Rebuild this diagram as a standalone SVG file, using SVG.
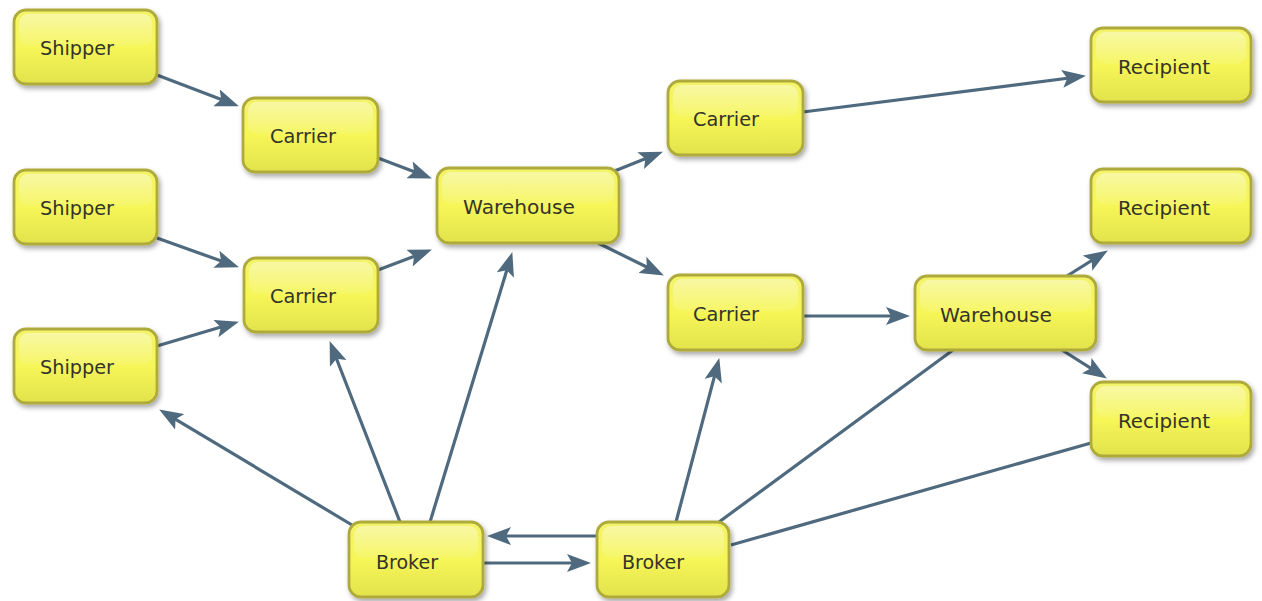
<svg xmlns="http://www.w3.org/2000/svg" width="1262" height="601" viewBox="0 0 1262 601">
  <defs>
    <linearGradient id="bodyFill" x1="0" y1="0" x2="0" y2="1">
      <stop offset="0" stop-color="#f3f36a"/>
      <stop offset="0.5" stop-color="#f6f658"/>
      <stop offset="1" stop-color="#e2e24c"/>
    </linearGradient>
    <linearGradient id="gloss" x1="0" y1="0" x2="0" y2="1">
      <stop offset="0" stop-color="#ffffff" stop-opacity="0.4"/>
      <stop offset="1" stop-color="#ffffff" stop-opacity="0.08"/>
    </linearGradient>
    <filter id="shadow" x="-10%" y="-10%" width="130%" height="140%">
      <feDropShadow dx="2" dy="3" stdDeviation="2.5" flood-color="#000000" flood-opacity="0.35"/>
    </filter>
    <marker id="arrow" markerUnits="userSpaceOnUse" markerWidth="24" markerHeight="18" refX="15" refY="9" orient="auto">
      <path d="M0,0 L24,9 L0,18 L5,9 Z" fill="#4f6a7e"/>
    </marker>
  </defs>
  <style>
    .box { fill: url(#bodyFill); stroke: #aeaa3a; stroke-width: 2.8; filter: url(#shadow); }
    .shine { fill: url(#gloss); }
    .label { font-family: "DejaVu Sans", "Liberation Sans", sans-serif; font-size: 20px; fill: #34342c; }
    .edge { fill: none; stroke: #4f6a7e; stroke-width: 3.2; }
    .edge.arr { marker-end: url(#arrow); }
  </style>

  <rect width="1262" height="601" fill="#ffffff"/>

  <!-- connectors -->
  <g id="connectors">
    <line class="edge arr" x1="157" y1="75" x2="230.5" y2="103.1"/>
    <line class="edge arr" x1="378" y1="158" x2="423.5" y2="175.2"/>
    <line class="edge arr" x1="157" y1="238" x2="230.5" y2="264.3"/>
    <line class="edge arr" x1="378" y1="270" x2="423.5" y2="252.8"/>
    <line class="edge arr" x1="157" y1="346" x2="230.3" y2="324.3"/>
    <line class="edge arr" x1="612" y1="172" x2="654.6" y2="155"/>
    <line class="edge arr" x1="803" y1="112" x2="1077.1" y2="77"/>
    <line class="edge arr" x1="598" y1="243" x2="655.8" y2="271.5"/>
    <line class="edge arr" x1="803" y1="316" x2="901" y2="316"/>
    <line class="edge arr" x1="1067" y1="276" x2="1100.2" y2="255.2"/>
    <line class="edge arr" x1="1062" y1="350" x2="1099.3" y2="373.7"/>
    <line class="edge arr" x1="352" y1="525" x2="166.9" y2="414.1"/>
    <line class="edge arr" x1="400" y1="522" x2="332.9" y2="349.5"/>
    <line class="edge arr" x1="430" y1="522" x2="509.7" y2="260.7"/>
    <line class="edge arr" x1="597" y1="536" x2="496" y2="536"/>
    <line class="edge arr" x1="483" y1="563" x2="582" y2="563"/>
    <line class="edge arr" x1="676" y1="522" x2="717" y2="366.7"/>
    <line class="edge" x1="719" y1="522" x2="953" y2="350"/>
    <line class="edge" x1="731" y1="545" x2="1091" y2="443"/>
  </g>

  <!-- nodes -->
  <g id="shipper-1" transform="translate(14,10)">
    <rect class="box" width="143" height="74" rx="12"/>
    <rect class="shine" x="5" y="4" width="133" height="32" rx="9"/>
    <text class="label" x="26" y="45" textLength="74" lengthAdjust="spacingAndGlyphs">Shipper</text>
  </g>
  <g id="shipper-2" transform="translate(14,170)">
    <rect class="box" width="143" height="74" rx="12"/>
    <rect class="shine" x="5" y="4" width="133" height="32" rx="9"/>
    <text class="label" x="26" y="45" textLength="74" lengthAdjust="spacingAndGlyphs">Shipper</text>
  </g>
  <g id="shipper-3" transform="translate(14,329)">
    <rect class="box" width="143" height="74" rx="12"/>
    <rect class="shine" x="5" y="4" width="133" height="32" rx="9"/>
    <text class="label" x="26" y="45" textLength="74" lengthAdjust="spacingAndGlyphs">Shipper</text>
  </g>
  <g id="carrier-1" transform="translate(243,98)">
    <rect class="box" width="135" height="74" rx="12"/>
    <rect class="shine" x="5" y="4" width="125" height="32" rx="9"/>
    <text class="label" x="27" y="45" textLength="66" lengthAdjust="spacingAndGlyphs">Carrier</text>
  </g>
  <g id="carrier-2" transform="translate(244,258)">
    <rect class="box" width="134" height="74" rx="12"/>
    <rect class="shine" x="5" y="4" width="124" height="32" rx="9"/>
    <text class="label" x="26" y="45" textLength="66" lengthAdjust="spacingAndGlyphs">Carrier</text>
  </g>
  <g id="warehouse-1" transform="translate(437,168)">
    <rect class="box" width="182" height="75" rx="12"/>
    <rect class="shine" x="5" y="4" width="172" height="32" rx="9"/>
    <text class="label" x="26" y="46" textLength="112" lengthAdjust="spacingAndGlyphs">Warehouse</text>
  </g>
  <g id="carrier-3" transform="translate(668,81)">
    <rect class="box" width="135" height="74" rx="12"/>
    <rect class="shine" x="5" y="4" width="125" height="32" rx="9"/>
    <text class="label" x="25" y="45" textLength="66" lengthAdjust="spacingAndGlyphs">Carrier</text>
  </g>
  <g id="carrier-4" transform="translate(668,275)">
    <rect class="box" width="135" height="75" rx="12"/>
    <rect class="shine" x="5" y="4" width="125" height="32" rx="9"/>
    <text class="label" x="25" y="46" textLength="66" lengthAdjust="spacingAndGlyphs">Carrier</text>
  </g>
  <g id="recipient-1" transform="translate(1091,28)">
    <rect class="box" width="160" height="74" rx="12"/>
    <rect class="shine" x="5" y="4" width="150" height="32" rx="9"/>
    <text class="label" x="27" y="46" textLength="92" lengthAdjust="spacingAndGlyphs">Recipient</text>
  </g>
  <g id="recipient-2" transform="translate(1091,169)">
    <rect class="box" width="160" height="74" rx="12"/>
    <rect class="shine" x="5" y="4" width="150" height="32" rx="9"/>
    <text class="label" x="27" y="46" textLength="92" lengthAdjust="spacingAndGlyphs">Recipient</text>
  </g>
  <g id="warehouse-2" transform="translate(915,276)">
    <rect class="box" width="181" height="74" rx="12"/>
    <rect class="shine" x="5" y="4" width="171" height="32" rx="9"/>
    <text class="label" x="25" y="46" textLength="112" lengthAdjust="spacingAndGlyphs">Warehouse</text>
  </g>
  <g id="recipient-3" transform="translate(1091,382)">
    <rect class="box" width="160" height="74" rx="12"/>
    <rect class="shine" x="5" y="4" width="150" height="32" rx="9"/>
    <text class="label" x="27" y="46" textLength="92" lengthAdjust="spacingAndGlyphs">Recipient</text>
  </g>
  <g id="broker-1" transform="translate(349,522)">
    <rect class="box" width="134" height="75" rx="12"/>
    <rect class="shine" x="5" y="4" width="124" height="32" rx="9"/>
    <text class="label" x="27" y="47" textLength="62" lengthAdjust="spacingAndGlyphs">Broker</text>
  </g>
  <g id="broker-2" transform="translate(597,522)">
    <rect class="box" width="132" height="75" rx="12"/>
    <rect class="shine" x="5" y="4" width="122" height="32" rx="9"/>
    <text class="label" x="25" y="47" textLength="62" lengthAdjust="spacingAndGlyphs">Broker</text>
  </g>
</svg>
